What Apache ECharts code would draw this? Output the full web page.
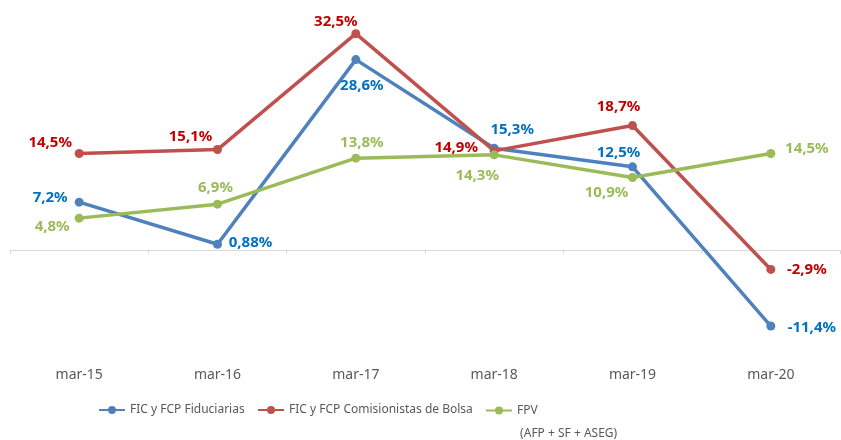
<!DOCTYPE html>
<html>
<head>
<meta charset="utf-8">
<script src="https://cdn.jsdelivr.net/npm/echarts@6/dist/echarts.min.js"></script>
<style>
  html, body { margin: 0; padding: 0; background: #fff; }
  #chart { width: 841px; height: 440px; }
</style>
</head>
<body>
<div id="chart"></div>
<script>
const categories = ['mar-15', 'mar-16', 'mar-17', 'mar-18', 'mar-19', 'mar-20']
const fiduciarias = [7.2, 0.88, 28.6, 15.3, 12.5, -11.4]
const comisionistas = [14.5, 15.1, 32.5, 14.9, 18.7, -2.9]
const fpv = [4.8, 6.9, 13.8, 14.3, 10.9, 14.5]

// label offsets from each point (px), kept apart from the values
const offFid = [[-29, -4], [33, -2], [6, 26], [18, -18], [-14, -14], [41, 2]]
const offCom = [[-29, -11], [-27, -13], [-20, -12], [-38, -3], [-14, -19], [36, 0]]
const offFpv = [[-27, 9], [-2, -16], [6, -15], [-17, 21], [-26, 15], [36, -5]]

const FONT = '"Noto Sans", sans-serif'
const fmt = v => String(v).replace('.', ',') + '%'

const chart = echarts.init(document.getElementById('chart'))

const makeSeries = (name, values, offsets, lineColor, labelColor) => ({
  name,
  type: 'line',
  xAxisIndex: 0,
  data: values.map((v, i) => ({
    value: v,
    label: { offset: offsets[i] }
  })),
  symbol: 'circle',
  symbolSize: 9,
  lineStyle: { width: 3.5, color: lineColor },
  itemStyle: { color: lineColor },
  label: {
    show: true,
    position: 'inside',
    align: 'center',
    verticalAlign: 'middle',
    formatter: p => fmt(p.value),
    color: labelColor,
    fontFamily: FONT,
    fontWeight: 'bold',
    fontSize: 15
  },
  emphasis: { disabled: true },
  z: 2
})

const legendText = { color: '#595959', fontFamily: FONT, fontSize: 12 }

const option = {
  animation: false,
  grid: { left: 10, right: 1, top: 17, bottom: 90 },
  legend: [
    {
      data: ['FIC y FCP Fiduciarias'],
      left: 98, top: 404, padding: 0,
      itemWidth: 26, itemHeight: 10,
      textStyle: legendText
    },
    {
      data: ['FIC y FCP Comisionistas de Bolsa'],
      left: 257, top: 404, padding: 0,
      itemWidth: 26, itemHeight: 10,
      textStyle: legendText
    },
    {
      data: ['FPV'],
      left: 485, top: 376, padding: 0,
      itemWidth: 26, itemHeight: 10,
      formatter: () => ' \nFPV\n (AFP + SF + ASEG)',
      textStyle: { ...legendText, lineHeight: 23 }
    }
  ],
  xAxis: [
    {
      type: 'category',
      data: categories,
      position: 'bottom',
      axisLine: { show: false, onZero: false },
      axisTick: { show: false },
      axisLabel: { color: '#595959', fontFamily: FONT, fontSize: 14, margin: 18 }
    },
    {
      type: 'category',
      data: categories,
      position: 'bottom',
      axisLine: { show: true, onZero: true, lineStyle: { color: '#d9d9d9', width: 1 } },
      axisTick: { show: true, length: 4, lineStyle: { color: '#d9d9d9' } },
      axisLabel: { show: false }
    }
  ],
  yAxis: {
    type: 'value',
    min: -15,
    max: 35,
    show: false,
    splitLine: { show: false }
  },
  series: [
    makeSeries('FIC y FCP Fiduciarias', fiduciarias, offFid, '#4f81bd', '#0070c0'),
    makeSeries('FIC y FCP Comisionistas de Bolsa', comisionistas, offCom, '#c0504d', '#c00000'),
    makeSeries('FPV', fpv, offFpv, '#9bbb59', '#9bbb59')
  ]
}

chart.setOption(option)
window.addEventListener('resize', () => chart.resize())
</script>
</body>
</html>
